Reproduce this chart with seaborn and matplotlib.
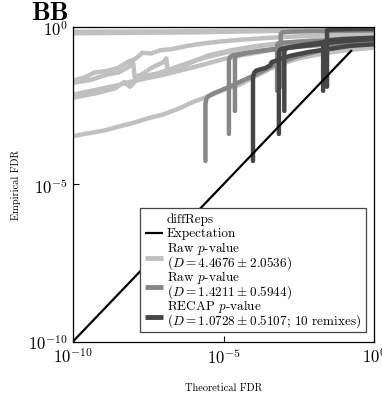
import matplotlib
matplotlib.use("Agg")
import matplotlib.pyplot as plt
import numpy as np
import pandas as pd
import seaborn as sns
from matplotlib.lines import Line2D
from matplotlib.patches import Rectangle

# ---- data (log10 of theoretical / empirical FDR for each run) ----
raw_diffreps_theo = [
    [-10, -7, -4, -2, 0],
    [-10, -6, -3, 0],
    [-10, -9.6, -9.3, -8.9, -8.5, -8.2, -7.9, -7.7, -7.4, -7.1, -6.7, -6.2, -5.8, -5.2, -4.5, -3.6, -2.6, -1.6, -0.7, 0],
    [-10, -9.4, -8.9, -8.5, -8.2, -8.0, -7.95, -7.7, -7.4, -7.0, -6.9, -6.85, -6.5, -6.0, -5.5, -4.8, -4.0, -3.0, -2.0, -1.0, 0],
    [-10, -9.5, -9.0, -8.5, -8.0, -7.5, -7.0, -6.5, -6.0, -5.5, -5.0, -4.4, -3.7, -3.0, -2.2, -1.3, -0.5, 0],
    [-10, -9.2, -8.6, -8.3, -8.1, -7.9, -7.6, -7.2, -6.8, -6.4, -5.9, -5.3, -4.6, -3.8, -2.8, -1.8, -0.8, 0],
    [-10, -9.5, -9, -8.5, -8, -7.5, -7, -6.5, -6, -5.5, -5, -4.5, -4, -3.5, -3, -2.5, -2, -1.5, -1, -0.5, 0],
]
raw_diffreps_emp = [
    [-0.15, -0.14, -0.11, -0.08, -0.05],
    [-0.2, -0.17, -0.12, -0.09],
    [-1.7, -1.6, -1.45, -1.4, -1.3, -1.12, -1.0, -0.82, -0.84, -0.74, -0.7, -0.6, -0.54, -0.47, -0.41, -0.35, -0.3, -0.26, -0.22, -0.2],
    [-1.78, -1.68, -1.52, -1.45, -1.3, -1.15, -1.6, -1.5, -1.3, -1.12, -1.0, -1.45, -1.3, -1.1, -0.9, -0.75, -0.62, -0.5, -0.42, -0.35, -0.3],
    [-2.15, -2.05, -1.95, -1.85, -1.72, -1.62, -1.52, -1.4, -1.28, -1.15, -1.02, -0.9, -0.78, -0.66, -0.56, -0.47, -0.42, -0.4],
    [-2.25, -2.1, -1.95, -1.75, -1.9, -1.7, -1.55, -1.48, -1.35, -1.22, -1.05, -0.9, -0.74, -0.6, -0.5, -0.42, -0.36, -0.33],
    [-3.47, -3.38, -3.3, -3.17, -3.05, -2.9, -2.78, -2.6, -2.38, -2.2, -2.0, -1.85, -1.6, -1.35, -1.15, -1.0, -0.9, -0.82, -0.75, -0.7, -0.66],
]

raw_p_theo = [
    [-5.6, -5.6, -5.57, -5.5, -5.35, -5.1, -4.8, -4.4, -3.9, -3.3, -2.6, -1.8, -0.9, 0],
    [-4.82, -4.82, -4.78, -4.7, -4.4, -3.9, -3.2, -2.4, -1.5, -0.6, 0],
    [-4.62, -4.62, -4.55, -4.3, -3.8, -3.0, -2.0, -1.0, 0],
    [-3.22, -3.22, -3.18, -3.0, -2.5, -1.8, -1.0, 0],
    [-3.1, -3.1, -3.05, -2.8, -2.0, -1.0, 0],
]
raw_p_emp = [
    [-4.26, -2.45, -2.28, -2.2, -2.12, -2.02, -1.9, -1.72, -1.5, -1.2, -0.95, -0.75, -0.6, -0.52],
    [-3.4, -1.05, -0.95, -0.9, -0.85, -0.78, -0.7, -0.62, -0.55, -0.48, -0.45],
    [-2.67, -0.98, -0.9, -0.84, -0.76, -0.66, -0.56, -0.48, -0.42],
    [-2.03, -0.58, -0.52, -0.5, -0.47, -0.44, -0.42, -0.4],
    [-1.9, -0.22, -0.17, -0.15, -0.13, -0.12, -0.11],
]

recap_theo = [
    [-4.02, -4.02, -3.98, -3.9, -3.75, -3.6, -3.45, -3.4, -3.2, -2.8, -2.2, -1.5, -0.8, 0],
    [-3.16, -3.16, -3.12, -3.0, -2.6, -2.0, -1.3, -0.6, 0],
    [-2.98, -2.98, -2.94, -2.8, -2.4, -1.8, -1.0, 0],
    [-1.69, -1.69, -1.65, -1.5, -1.0, -0.5, 0],
    [-1.56, -1.56, -1.52, -1.3, -0.8, 0],
]
recap_emp = [
    [-4.26, -1.6, -1.45, -1.38, -1.34, -1.3, -1.22, -1.12, -1.05, -0.92, -0.8, -0.7, -0.6, -0.55],
    [-3.4, -0.8, -0.72, -0.68, -0.63, -0.56, -0.48, -0.42, -0.38],
    [-2.67, -0.78, -0.7, -0.64, -0.58, -0.5, -0.43, -0.36],
    [-2.03, -0.55, -0.47, -0.42, -0.38, -0.36, -0.34],
    [-1.9, -0.1, -0.09, -0.08, -0.07, -0.06],
]

expect_theo = [-10, -0.75]
expect_emp = [-10, -0.75]

methods = ["raw_diffreps", "raw_p", "recap"]
method_colors = {"raw_diffreps": "#c0c0c0", "raw_p": "#878787", "recap": "#464646"}
method_names = ["Raw $p$-value", "Raw $p$-value", "RECAP $p$-value"]
method_scores = ["($D = 4.4676 \\pm 2.0536$)",
                 "($D = 1.4211 \\pm 0.5944$)",
                 "($D = 1.0728 \\pm 0.5107$; 10 remixes)"]

# ---- long table of all runs ----
rows = []
for method, theo, emp in [("raw_diffreps", raw_diffreps_theo, raw_diffreps_emp),
                          ("raw_p", raw_p_theo, raw_p_emp),
                          ("recap", recap_theo, recap_emp)]:
    for run, (xs, ys) in enumerate(zip(theo, emp)):
        for order, (xv, yv) in enumerate(zip(xs, ys)):
            rows.append({"method": method, "run": f"{method}-{run}", "order": order,
                         "theoretical": 10.0 ** xv, "empirical": 10.0 ** yv})
df = pd.DataFrame(rows)

# ---- styling ----
sns.set_style("white")
plt.rcParams.update({
    "font.family": "serif",
    "font.serif": ["cmr10"],
    "mathtext.fontset": "cm",
    "axes.formatter.use_mathtext": True,
    "axes.edgecolor": "black",
    "axes.linewidth": 0.9,
    "text.color": "black",
    "axes.labelcolor": "black",
    "xtick.color": "black",
    "ytick.color": "black",
})

FIG_W, FIG_H = 382, 402
AX_L, AX_R, AX_T, AX_B = 73, 374, 28, 342.5

fig = plt.figure(figsize=(FIG_W / 100, FIG_H / 100), dpi=100)
ax = fig.add_axes([AX_L / FIG_W, 1 - AX_B / FIG_H,
                   (AX_R - AX_L) / FIG_W, (AX_B - AX_T) / FIG_H])
ax.set_xscale("log")
ax.set_yscale("log")

sns.lineplot(data=df, x="theoretical", y="empirical", hue="method", hue_order=methods,
             units="run", estimator=None, sort=False, palette=method_colors,
             linewidth=3.2, legend=False, ax=ax)
sns.lineplot(x=[10.0 ** v for v in expect_theo], y=[10.0 ** v for v in expect_emp],
             color="black", linewidth=1.6, ax=ax)

ax.set_xlim(1e-10, 1)
ax.set_ylim(1e-10, 1)
ax.set_xticks([1e-10, 1e-5, 1])
ax.set_yticks([1e-10, 1e-5, 1])
ax.minorticks_off()
ax.tick_params(direction="in", length=4, width=0.8, labelsize=12, pad=3.5,
               top=False, right=False, bottom=True, left=True)

ax.set_xlabel("Theoretical FDR", fontsize=7.5)
ax.set_ylabel("Empirical FDR", fontsize=7.5)
ax.xaxis.set_label_coords(0.5, -0.129)
ax.yaxis.set_label_coords(-0.173, 0.5)


# ---- key box: fixed line pitch so every text row sits on an even baseline ----
def ax_x(px):
    return (px - AX_L) / (AX_R - AX_L)


def ax_y(py):
    return (AX_B - py) / (AX_B - AX_T)


box_l, box_r, box_t, box_b = 140, 366, 209, 333
pitch = 14.6
first_base = 222.6
text_x = 167
key_x0, key_x1 = 145, 163

ax.add_patch(Rectangle((ax_x(box_l), ax_y(box_b)), ax_x(box_r) - ax_x(box_l),
                       ax_y(box_t) - ax_y(box_b), transform=ax.transAxes,
                       facecolor="white", edgecolor="#444444", linewidth=0.9,
                       zorder=5, clip_on=False))

rows_text = ["diffReps", "Expectation"]
for name, score in zip(method_names, method_scores):
    rows_text += [name, score]
for i, s in enumerate(rows_text):
    ax.text(ax_x(text_x), ax_y(first_base + i * pitch), s, transform=ax.transAxes,
            fontsize=9.5, ha="left", va="baseline", zorder=6)

key_specs = [("black", 1.6, first_base + pitch - 3.5)]
for j, m in enumerate(methods):
    key_specs.append((method_colors[m], 3.5, first_base + (2 + 2 * j) * pitch + 0.5 * pitch))
for color, lw, ypx in key_specs:
    ax.add_artist(Line2D([ax_x(key_x0), ax_x(key_x1)], [ax_y(ypx), ax_y(ypx)],
                         transform=ax.transAxes, color=color, lw=lw,
                         solid_capstyle="butt", zorder=6))

fig.text(31 / FIG_W, 1 - 19.5 / FIG_H, "BB", family="cmb10", fontsize=19,
         ha="left", va="baseline")

fig.savefig("out.png", dpi=100)
